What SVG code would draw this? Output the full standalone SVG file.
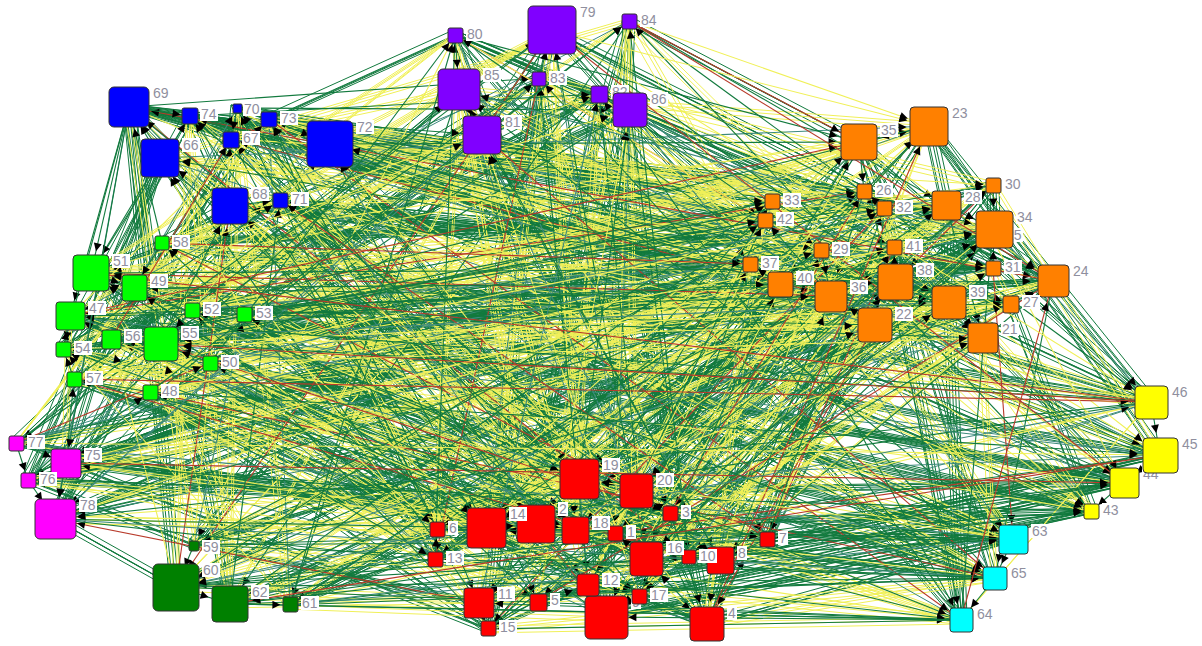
<svg xmlns="http://www.w3.org/2000/svg" width="1202" height="646" viewBox="0 0 1202 646">
<style>
#edges path{fill:none;stroke-width:1.1}
#edges .x{stroke-width:1}
.g{stroke:#127a3e}.t{stroke:#3c8a7c}.y{stroke:#f0f058}.r{stroke:#b83a2a}
.s{marker-end:url(#as)}.m{marker-end:url(#am)}.l{marker-end:url(#al)}
.nd{stroke:#333;stroke-width:1}
.cb{fill:#0000ff}.cp{fill:#8000ff}.co{fill:#ff8000}.cg{fill:#00ff00}.cm{fill:#ff00ff}.cd{fill:#008000}.cr{fill:#ff0000}.cy{fill:#ffff00}.cc{fill:#00ffff}
.lb{fill:#fff}
.tx{font-family:"Liberation Sans",Arial,sans-serif;font-size:14px;fill:#8f8f9e}
</style>
<defs>
<marker id="as" viewBox="0 0 10 10" refX="22" refY="5" markerWidth="8" markerHeight="8" markerUnits="userSpaceOnUse" orient="auto" overflow="visible"><path d="M0 0L10 5L0 10z" fill="#000"/></marker>
<marker id="am" viewBox="0 0 10 10" refX="30" refY="5" markerWidth="8" markerHeight="8" markerUnits="userSpaceOnUse" orient="auto" overflow="visible"><path d="M0 0L10 5L0 10z" fill="#000"/></marker>
<marker id="al" viewBox="0 0 10 10" refX="38" refY="5" markerWidth="8" markerHeight="8" markerUnits="userSpaceOnUse" orient="auto" overflow="visible"><path d="M0 0L10 5L0 10z" fill="#000"/></marker>
</defs>
<rect width="1202" height="646" fill="#fff"/>
<g id="edges">
<path id="xg" class="x g" d="M129 107L231 139M129 107L864 191M129 107L1011 304M129 107L536 524M190 116L230 206M190 116L772 201M190 116L875 325M237 108L280 200M237 108L765 220M269 119L455 35M330 144L16 443M160 158L435 559M160 158L66 463M231 139L1091 511M231 139L646 559M231 139L28 480M230 206L821 250M230 206L1013 539M230 206L689 557M230 206L55 519M280 200L599 94M280 200L750 264M280 200L995 578M280 200L720 560M455 35L630 110M455 35L993 268M455 35L961 620M552 30L482 135M552 30L1053 281M629 21L859 142M459 90L192 310M539 78L606 617M539 78L244 314M599 94L536 524M599 94L707 624M599 94L111 339M630 110L1011 304M630 110L670 513M630 110L488 629M630 110L161 344M482 135L765 220M482 135L875 325M482 135L575 530M482 135L194 545M859 142L884 208M859 142L983 338M859 142L615 533M929 126L946 205M929 126L1151 402M993 185L994 229M864 191L992 238M772 201L66 463M772 201L129 107M765 220L720 560M765 220L28 480M765 220L190 116M884 208L995 578M884 208L588 585M884 208L55 519M884 208L237 108M946 205L1053 281M946 205L961 620M946 205L479 603M946 205L162 243M994 229L780 284M994 229L579 479M994 229L538 602M894 247L895 282M894 247L636 491M821 250L831 296M750 264L230 206M993 268L244 314M993 268L280 200M1053 281L194 545M1053 281L111 339M1053 281L455 35M780 284L575 530M780 284L176 587M780 284L161 344M780 284L552 30M895 282L1151 402M895 282L615 533M895 282L230 604M895 282L63 349M831 296L1160 455M831 296L767 539M831 296L290 605M949 302L1124 483M949 302L435 559M1011 304L1091 511M875 325L630 110M983 338L129 107M983 338L482 135M1151 402L162 243M1151 402L190 116M1151 402L859 142M1160 455L479 603M1160 455L91 273M1160 455L237 108M1160 455L929 126M1124 483L636 491M1124 483L538 602M1124 483L134 288M1124 483L269 119M1091 511L437 529M1091 511L639 596M1091 511L70 316M1013 539L486 528M1013 539L606 617M995 578L536 524M961 620L884 208M579 479L280 200M579 479L946 205M636 491L63 349M636 491L455 35M636 491L994 229M437 529L230 604M437 529L210 363M437 529L552 30M437 529L894 247M486 528L435 559M486 528L290 605M486 528L74 379M486 528L629 21M536 524L646 559M536 524L16 443M536 524L150 392M670 513L689 557M670 513L66 463M575 530L720 560M615 533L780 284M767 539L482 135M767 539L895 282M435 559L269 119M435 559L859 142M435 559L831 296M646 559L134 288M646 559L330 144M646 559L929 126M646 559L949 302M689 557L606 617M689 557L70 316M689 557L160 158M689 557L993 185M720 560L707 624M720 560L192 310M720 560L231 139M588 585L488 629M588 585L244 314M479 603L194 545M538 602L1160 455M639 596L946 205M639 596L1124 483M606 617L629 21M606 617L994 229M606 617L1091 511M707 624L74 379M707 624L459 90M707 624L894 247M707 624L1013 539M488 629L66 463M488 629L150 392M488 629L539 78M488 629L821 250M194 545L28 480M194 545L992 238M194 545L599 94M176 587L55 519M176 587L129 107M230 604L162 243M290 605L437 529M16 443L895 282M16 443L486 528M66 463L993 185M66 463L831 296M66 463L536 524M28 480L160 158M28 480L864 191M28 480L949 302M28 480L670 513M55 519L244 314M55 519L231 139M55 519L772 201M55 519L1011 304M162 243L111 339M162 243L230 206M162 243L765 220M91 273L161 344M91 273L280 200M134 288L63 349M70 316L646 559M192 310L1124 483M192 310L689 557M244 314L821 250M244 314L1091 511M244 314L720 560M111 339L539 78M111 339L750 264M111 339L1013 539M111 339L588 585M161 344L129 107M161 344L599 94M161 344L993 268M161 344L995 578M63 349L190 116M63 349L630 110M63 349L1053 281M210 363L237 108M210 363L482 135M74 379L269 119M150 392L707 624"/>
<use href="#xg" transform="translate(3 2)"/>
<use href="#xg" transform="translate(-3 3)"/>
<use href="#xg" transform="translate(6 -2)"/>
<use href="#xg" transform="translate(-6 -3)"/>
<path id="xy" class="x y" d="M129 107L194 545M190 116L670 513M190 116L176 587M237 108L983 338M237 108L575 530M237 108L230 604M269 119L884 208M269 119L1151 402M269 119L615 533M330 144L552 30M330 144L946 205M330 144L1160 455M160 158L629 21M160 158L994 229M231 139L459 90M280 200L162 243M455 35L588 585M455 35L91 273M552 30L579 479M552 30L479 603M552 30L134 288M629 21L780 284M629 21L636 491M629 21L538 602M459 90L929 126M459 90L895 282M459 90L437 529M539 78L993 185M539 78L831 296M599 94L864 191M482 135L63 349M859 142L176 587M859 142L210 363M929 126L767 539M929 126L230 604M929 126L74 379M993 185L1160 455M993 185L435 559M993 185L290 605M864 191L894 247M864 191L1124 483M864 191L646 559M772 201L821 250M772 201L1091 511M765 220L750 264M946 205L269 119M994 229L91 273M994 229L330 144M894 247L639 596M894 247L134 288M894 247L160 158M821 250L437 529M821 250L606 617M821 250L70 316M750 264L949 302M750 264L486 528M750 264L707 624M993 268L1011 304M993 268L536 524M1053 281L875 325M895 282L629 21M831 296L210 363M831 296L459 90M949 302L16 443M949 302L74 379M949 302L539 78M1011 304L646 559M1011 304L66 463M1011 304L150 392M875 325L1013 539M875 325L689 557M875 325L28 480M983 338L995 578M983 338L720 560M1151 402L961 620M1091 511L330 144M1091 511L864 191M1013 539L192 310M1013 539L160 158M1013 539L772 201M995 578L707 624M995 578L244 314M995 578L231 139M961 620L670 513M961 620L488 629M961 620L111 339M579 479L575 530M579 479L194 545M636 491L615 533M486 528L821 250M536 524L459 90M536 524L750 264M670 513L992 238M670 513L539 78M670 513L993 268M575 530L28 480M575 530L129 107M575 530L599 94M615 533L588 585M615 533L55 519M615 533L190 116M767 539L479 603M767 539L162 243M435 559L538 602M689 557L1011 304M720 560L864 191M720 560L875 325M588 585L230 206M588 585L772 201M588 585L983 338M479 603L111 339M479 603L280 200M479 603L765 220M538 602L176 587M538 602L161 344M538 602L455 35M639 596L230 604M639 596L63 349M606 617L290 605M488 629L995 578M194 545L750 264M194 545L961 620M176 587L630 110M176 587L993 268M176 587L579 479M230 604L190 116M230 604L482 135M230 604L1053 281M290 605L91 273M290 605L237 108M290 605L859 142M16 443L134 288M16 443L269 119M66 463L70 316M55 519L575 530M162 243L875 325M162 243L615 533M91 273L884 208M91 273L983 338M91 273L767 539M134 288L455 35M134 288L946 205M134 288L1151 402M70 316L210 363M70 316L552 30M70 316L994 229M192 310L74 379M192 310L629 21M244 314L150 392M161 344L479 603M63 349L961 620M63 349L538 602M210 363L780 284M210 363L579 479M210 363L639 596M74 379L859 142M74 379L895 282M74 379L636 491M150 392L330 144M150 392L929 126M150 392L831 296"/>
<use href="#xy" transform="translate(2 -3)"/>
<use href="#xy" transform="translate(-4 4)"/>
<path class="x t" d="M269 119L290 605M330 144L767 539M160 158L1124 483M231 139L894 247M230 206L539 78M629 21L70 316M459 90L639 596M539 78L486 528M599 94L949 302M630 110L772 201M993 185L150 392M864 191L16 443M772 201L689 557M765 220L1013 539M884 208L993 268M821 250L231 139M750 264L192 310M993 268L488 629M1053 281L670 513M780 284L983 338M1011 304L599 94M875 325L992 238M983 338L55 519M1151 402L588 585M1160 455L579 479M995 578L765 220M961 620L230 206M579 479L161 344M636 491L176 587M437 529L767 539M575 530L1053 281M615 533L630 110M767 539L237 108M435 559L91 273M646 559L639 596M479 603L1151 402M538 602L884 208M639 596L552 30M606 617L210 363M707 624L16 443M230 604L636 491M290 605L780 284M16 443L929 126M66 463L330 144M28 480L192 310M134 288L435 559M70 316L1160 455M192 310L894 247M244 314L459 90M111 339L992 238M74 379L606 617M150 392L437 529"/>
<path class="g s" d="M129 107L539 78"/><path class="g s" d="M129 107L821 250"/><path class="y s" d="M129 107L1091 511"/><path class="r s" d="M129 107L689 557"/>
<path class="g s" d="M190 116L599 94"/><path class="g s" d="M190 116L750 264"/><path class="y m" d="M190 116L1013 539"/><path class="g m" d="M190 116L720 560"/>
<path class="g l" d="M237 108L630 110"/><path class="t s" d="M237 108L993 268"/><path class="y m" d="M237 108L995 578"/><path class="g m" d="M237 108L588 585"/>
<path class="g l" d="M269 119L482 135"/><path class="y l" d="M269 119L1053 281"/><path class="r m" d="M269 119L961 620"/><path class="g m" d="M269 119L479 603"/>
<path class="g l" d="M330 144L859 142"/><path class="y m" d="M330 144L780 284"/><path class="g l" d="M330 144L579 479"/><path class="g s" d="M330 144L538 602"/>
<path class="t l" d="M160 158L929 126"/><path class="y l" d="M160 158L895 282"/><path class="g l" d="M160 158L636 491"/><path class="g s" d="M160 158L639 596"/>
<path class="y s" d="M231 139L993 185"/><path class="r l" d="M231 139L831 296"/><path class="g s" d="M231 139L437 529"/><path class="t l" d="M231 139L606 617"/>
<path class="y s" d="M230 206L864 191"/><path class="g l" d="M230 206L949 302"/><path class="g l" d="M230 206L486 528"/><path class="y l" d="M230 206L707 624"/>
<path class="y s" d="M280 200L772 201"/><path class="g s" d="M280 200L1011 304"/><path class="g l" d="M280 200L536 524"/><path class="y s" d="M280 200L488 629"/>
<path class="r s" d="M455 35L765 220"/><path class="g l" d="M455 35L875 325"/><path class="t s" d="M455 35L670 513"/><path class="y s" d="M455 35L194 545"/>
<path class="g s" d="M552 30L884 208"/><path class="g m" d="M552 30L983 338"/><path class="y m" d="M552 30L575 530"/><path class="r l" d="M552 30L176 587"/>
<path class="g m" d="M629 21L946 205"/><path class="g l" d="M629 21L1151 402"/><path class="y s" d="M629 21L615 533"/><path class="g l" d="M629 21L230 604"/>
<path class="g l" d="M459 90L994 229"/><path class="t l" d="M459 90L1160 455"/><path class="y s" d="M459 90L767 539"/><path class="g s" d="M459 90L290 605"/>
<path class="g s" d="M539 78L894 247"/><path class="y m" d="M539 78L1124 483"/><path class="r s" d="M539 78L435 559"/><path class="g s" d="M539 78L16 443"/>
<path class="g s" d="M599 94L821 250"/><path class="y s" d="M599 94L1091 511"/><path class="g l" d="M599 94L646 559"/><path class="g m" d="M599 94L66 463"/>
<path class="t s" d="M630 110L750 264"/><path class="y m" d="M630 110L1013 539"/><path class="g s" d="M630 110L689 557"/><path class="g s" d="M630 110L28 480"/>
<path class="y s" d="M482 135L993 268"/><path class="r m" d="M482 135L995 578"/><path class="g m" d="M482 135L720 560"/><path class="t l" d="M482 135L55 519"/>
<path class="y l" d="M859 142L1053 281"/><path class="g m" d="M859 142L961 620"/><path class="g m" d="M859 142L588 585"/><path class="y s" d="M859 142L162 243"/>
<path class="y m" d="M929 126L780 284"/><path class="g l" d="M929 126L579 479"/><path class="g m" d="M929 126L479 603"/><path class="y l" d="M929 126L91 273"/>
<path class="r l" d="M993 185L895 282"/><path class="g l" d="M993 185L636 491"/><path class="t s" d="M993 185L538 602"/><path class="y m" d="M993 185L134 288"/>
<path class="g l" d="M864 191L831 296"/><path class="g s" d="M864 191L437 529"/><path class="y s" d="M864 191L639 596"/><path class="r m" d="M864 191L70 316"/>
<path class="g l" d="M772 201L949 302"/><path class="g l" d="M772 201L486 528"/><path class="y l" d="M772 201L606 617"/><path class="g s" d="M772 201L192 310"/>
<path class="g s" d="M765 220L1011 304"/><path class="t l" d="M765 220L536 524"/><path class="y l" d="M765 220L707 624"/><path class="g s" d="M765 220L244 314"/>
<path class="g l" d="M884 208L875 325"/><path class="y s" d="M884 208L670 513"/><path class="r s" d="M884 208L488 629"/><path class="g m" d="M884 208L111 339"/>
<path class="g m" d="M946 205L983 338"/><path class="y m" d="M946 205L575 530"/><path class="g s" d="M946 205L194 545"/><path class="g l" d="M946 205L161 344"/>
<path class="t l" d="M994 229L1151 402"/><path class="y s" d="M994 229L615 533"/><path class="g l" d="M994 229L176 587"/><path class="g s" d="M994 229L63 349"/>
<path class="y l" d="M894 247L1160 455"/><path class="r s" d="M894 247L767 539"/><path class="g l" d="M894 247L230 604"/><path class="t s" d="M894 247L210 363"/>
<path class="y m" d="M821 250L1124 483"/><path class="g s" d="M821 250L435 559"/><path class="g s" d="M821 250L290 605"/><path class="y s" d="M821 250L74 379"/>
<path class="y s" d="M750 264L1091 511"/><path class="g l" d="M750 264L646 559"/><path class="g s" d="M750 264L16 443"/><path class="y s" d="M750 264L150 392"/>
<path class="r m" d="M993 268L1013 539"/><path class="g s" d="M993 268L689 557"/><path class="t m" d="M993 268L66 463"/><path class="y l" d="M993 268L160 158"/>
<path class="g m" d="M1053 281L995 578"/><path class="g m" d="M1053 281L720 560"/><path class="y s" d="M1053 281L28 480"/><path class="r l" d="M1053 281L129 107"/>
<path class="g m" d="M780 284L961 620"/><path class="g m" d="M780 284L588 585"/><path class="y l" d="M780 284L55 519"/><path class="g s" d="M780 284L190 116"/>
<path class="g l" d="M895 282L579 479"/><path class="t m" d="M895 282L479 603"/><path class="y s" d="M895 282L162 243"/><path class="g s" d="M895 282L237 108"/>
<path class="g l" d="M831 296L636 491"/><path class="y s" d="M831 296L538 602"/><path class="r l" d="M831 296L91 273"/><path class="g s" d="M831 296L269 119"/>
<path class="g s" d="M949 302L437 529"/><path class="y s" d="M949 302L639 596"/><path class="g m" d="M949 302L134 288"/><path class="g l" d="M949 302L330 144"/>
<path class="t l" d="M1011 304L486 528"/><path class="y l" d="M1011 304L606 617"/><path class="g m" d="M1011 304L70 316"/><path class="g l" d="M1011 304L160 158"/>
<path class="y l" d="M875 325L536 524"/><path class="r l" d="M875 325L707 624"/><path class="g s" d="M875 325L192 310"/><path class="t s" d="M875 325L231 139"/>
<path class="y s" d="M983 338L670 513"/><path class="g s" d="M983 338L488 629"/><path class="g s" d="M983 338L244 314"/><path class="y l" d="M983 338L230 206"/>
<path class="y m" d="M1151 402L575 530"/><path class="g s" d="M1151 402L194 545"/><path class="g m" d="M1151 402L111 339"/><path class="y s" d="M1151 402L280 200"/>
<path class="r s" d="M1160 455L615 533"/><path class="g l" d="M1160 455L176 587"/><path class="t l" d="M1160 455L161 344"/><path class="y s" d="M1160 455L455 35"/>
<path class="g s" d="M1124 483L767 539"/><path class="g l" d="M1124 483L230 604"/><path class="y s" d="M1124 483L63 349"/><path class="r l" d="M1124 483L552 30"/>
<path class="g s" d="M1091 511L435 559"/><path class="g s" d="M1091 511L290 605"/><path class="y s" d="M1091 511L210 363"/><path class="g s" d="M1091 511L629 21"/>
<path class="g l" d="M1013 539L646 559"/><path class="t s" d="M1013 539L16 443"/><path class="y s" d="M1013 539L74 379"/><path class="g l" d="M1013 539L459 90"/>
<path class="g s" d="M995 578L689 557"/><path class="y m" d="M995 578L66 463"/><path class="r s" d="M995 578L150 392"/><path class="g s" d="M995 578L539 78"/>
<path class="g m" d="M961 620L720 560"/><path class="y s" d="M961 620L28 480"/><path class="g l" d="M961 620L992 238"/><path class="g s" d="M961 620L599 94"/>
<path class="t m" d="M579 479L588 585"/><path class="y l" d="M579 479L55 519"/><path class="g l" d="M579 479L129 107"/><path class="g l" d="M579 479L630 110"/>
<path class="y m" d="M636 491L479 603"/><path class="r s" d="M636 491L162 243"/><path class="g s" d="M636 491L190 116"/><path class="t l" d="M636 491L482 135"/>
<path class="y s" d="M437 529L538 602"/><path class="g l" d="M437 529L91 273"/><path class="g s" d="M437 529L237 108"/><path class="y l" d="M437 529L859 142"/>
<path class="y s" d="M486 528L639 596"/><path class="g m" d="M486 528L134 288"/><path class="g s" d="M486 528L269 119"/><path class="y l" d="M486 528L929 126"/>
<path class="r l" d="M536 524L606 617"/><path class="g m" d="M536 524L70 316"/><path class="t l" d="M536 524L330 144"/><path class="y s" d="M536 524L993 185"/>
<path class="g l" d="M670 513L707 624"/><path class="g s" d="M670 513L192 310"/><path class="y l" d="M670 513L160 158"/><path class="r s" d="M670 513L864 191"/>
<path class="g s" d="M575 530L488 629"/><path class="g s" d="M575 530L244 314"/><path class="y s" d="M575 530L231 139"/><path class="g s" d="M575 530L772 201"/>
<path class="g s" d="M615 533L194 545"/><path class="t m" d="M615 533L111 339"/><path class="y l" d="M615 533L230 206"/><path class="g s" d="M615 533L765 220"/>
<path class="g l" d="M767 539L176 587"/><path class="y l" d="M767 539L161 344"/><path class="r s" d="M767 539L280 200"/><path class="g s" d="M767 539L884 208"/>
<path class="g l" d="M435 559L230 604"/><path class="y s" d="M435 559L63 349"/><path class="g s" d="M435 559L455 35"/><path class="g m" d="M435 559L946 205"/>
<path class="t s" d="M646 559L290 605"/><path class="y s" d="M646 559L210 363"/><path class="g l" d="M646 559L552 30"/><path class="g l" d="M646 559L994 229"/>
<path class="y s" d="M689 557L16 443"/><path class="r s" d="M689 557L74 379"/><path class="g s" d="M689 557L629 21"/><path class="t s" d="M689 557L894 247"/>
<path class="y m" d="M720 560L66 463"/><path class="g s" d="M720 560L150 392"/><path class="g l" d="M720 560L459 90"/><path class="y s" d="M720 560L821 250"/>
<path class="y s" d="M588 585L28 480"/><path class="g l" d="M588 585L992 238"/><path class="g s" d="M588 585L539 78"/><path class="y s" d="M588 585L750 264"/>
<path class="r l" d="M479 603L55 519"/><path class="g l" d="M479 603L129 107"/><path class="t s" d="M479 603L599 94"/><path class="y s" d="M479 603L993 268"/>
<path class="g s" d="M538 602L162 243"/><path class="g s" d="M538 602L190 116"/><path class="y l" d="M538 602L630 110"/><path class="r l" d="M538 602L1053 281"/>
<path class="g l" d="M639 596L91 273"/><path class="g s" d="M639 596L237 108"/><path class="y l" d="M639 596L482 135"/><path class="g m" d="M639 596L780 284"/>
<path class="g m" d="M606 617L134 288"/><path class="t s" d="M606 617L269 119"/><path class="y l" d="M606 617L859 142"/><path class="g l" d="M606 617L895 282"/>
<path class="g m" d="M707 624L70 316"/><path class="y l" d="M707 624L330 144"/><path class="r l" d="M707 624L929 126"/><path class="g l" d="M707 624L831 296"/>
<path class="g s" d="M488 629L192 310"/><path class="y l" d="M488 629L160 158"/><path class="g s" d="M488 629L993 185"/><path class="g l" d="M488 629L949 302"/>
<path class="t s" d="M194 545L244 314"/><path class="y s" d="M194 545L231 139"/><path class="g s" d="M194 545L864 191"/><path class="g s" d="M194 545L1011 304"/>
<path class="y m" d="M176 587L111 339"/><path class="r l" d="M176 587L230 206"/><path class="g s" d="M176 587L772 201"/><path class="t l" d="M176 587L875 325"/>
<path class="y l" d="M230 604L161 344"/><path class="g s" d="M230 604L280 200"/><path class="g s" d="M230 604L765 220"/><path class="y m" d="M230 604L983 338"/>
<path class="y s" d="M290 605L63 349"/><path class="g s" d="M290 605L455 35"/><path class="g s" d="M290 605L884 208"/><path class="y l" d="M290 605L1151 402"/>
<path class="r s" d="M16 443L210 363"/><path class="g l" d="M16 443L552 30"/><path class="t m" d="M16 443L946 205"/><path class="y l" d="M16 443L1160 455"/>
<path class="g s" d="M66 463L74 379"/><path class="g s" d="M66 463L629 21"/><path class="y l" d="M66 463L994 229"/><path class="r m" d="M66 463L1124 483"/>
<path class="g s" d="M28 480L150 392"/><path class="g l" d="M28 480L459 90"/><path class="y s" d="M28 480L894 247"/><path class="g s" d="M28 480L1091 511"/>
<path class="g l" d="M55 519L992 238"/><path class="t s" d="M55 519L539 78"/><path class="y s" d="M55 519L821 250"/><path class="g m" d="M55 519L1013 539"/>
<path class="g l" d="M162 243L129 107"/><path class="y s" d="M162 243L599 94"/><path class="r s" d="M162 243L750 264"/><path class="g m" d="M162 243L995 578"/>
<path class="g s" d="M91 273L190 116"/><path class="y l" d="M91 273L630 110"/><path class="g s" d="M91 273L993 268"/><path class="g m" d="M91 273L961 620"/>
<path class="t s" d="M134 288L237 108"/><path class="y l" d="M134 288L482 135"/><path class="g l" d="M134 288L1053 281"/><path class="g l" d="M134 288L579 479"/>
<path class="y s" d="M70 316L269 119"/><path class="r l" d="M70 316L859 142"/><path class="g m" d="M70 316L780 284"/><path class="t l" d="M70 316L636 491"/>
<path class="y l" d="M192 310L330 144"/><path class="g l" d="M192 310L929 126"/><path class="g l" d="M192 310L895 282"/><path class="y s" d="M192 310L437 529"/>
<path class="y l" d="M244 314L160 158"/><path class="g s" d="M244 314L993 185"/><path class="g l" d="M244 314L831 296"/><path class="y l" d="M244 314L486 528"/>
<path class="r s" d="M111 339L231 139"/><path class="g s" d="M111 339L864 191"/><path class="t l" d="M111 339L949 302"/><path class="y l" d="M111 339L536 524"/>
<path class="g l" d="M161 344L230 206"/><path class="g s" d="M161 344L772 201"/><path class="y s" d="M161 344L1011 304"/><path class="r s" d="M161 344L670 513"/>
<path class="g s" d="M63 349L280 200"/><path class="g s" d="M63 349L765 220"/><path class="y l" d="M63 349L875 325"/><path class="g m" d="M63 349L575 530"/>
<path class="g s" d="M210 363L455 35"/><path class="t s" d="M210 363L884 208"/><path class="y m" d="M210 363L983 338"/><path class="g s" d="M210 363L615 533"/>
<path class="g l" d="M74 379L552 30"/><path class="y m" d="M74 379L946 205"/><path class="r l" d="M74 379L1151 402"/><path class="g s" d="M74 379L767 539"/>
<path class="g s" d="M150 392L629 21"/><path class="y l" d="M150 392L994 229"/><path class="g l" d="M150 392L1160 455"/><path class="g s" d="M150 392L435 559"/>
<path class="t l" d="M992 238L459 90"/><path class="y m" d="M992 238L1124 483"/><path class="g l" d="M992 238L646 559"/>
<path class="g m" d="M176 587L961 620"/><path class="g m" d="M176 587L995 578"/><path class="g m" d="M176 587L1013 539"/><path class="g m" d="M230 604L961 620"/><path class="g m" d="M230 604L995 578"/><path class="g s" d="M230 604L1091 511"/>
<path class="g m" d="M290 605L961 620"/><path class="g m" d="M290 605L995 578"/><path class="t m" d="M290 605L1013 539"/><path class="g m" d="M55 519L961 620"/><path class="t m" d="M55 519L995 578"/><path class="g m" d="M194 545L995 578"/>
<path class="g m" d="M194 545L1013 539"/><path class="g m" d="M66 463L1013 539"/><path class="g m" d="M176 587L1124 483"/>
<path class="g m" d="M961 620L479 603"/><path class="g s" d="M961 620L488 629"/><path class="g l" d="M995 578L486 528"/><path class="g s" d="M1013 539L437 529"/><path class="g s" d="M995 578L435 559"/><path class="g l" d="M961 620L606 617"/><path class="y l" d="M1013 539L579 479"/>
<path class="r l" d="M1151 402L91 273"/><path class="g m" d="M1151 402L70 316"/><path class="r l" d="M1151 402L161 344"/><path class="g l" d="M1151 402L55 519"/><path class="t l" d="M1151 402L176 587"/><path class="r l" d="M1160 455L230 604"/>
<path class="r l" d="M961 620L1053 281"/>
<path class="y l" d="M629 21L929 126"/><path class="r l" d="M629 21L859 142"/><path class="y l" d="M552 30L929 126"/><path class="g l" d="M455 35L859 142"/><path class="r l" d="M629 21L1053 281"/><path class="y l" d="M552 30L1151 402"/>
<path class="g l" d="M129 107L91 273"/><path class="g m" d="M129 107L70 316"/><path class="g s" d="M129 107L63 349"/><path class="t l" d="M129 107L55 519"/><path class="g l" d="M160 158L91 273"/><path class="g m" d="M129 107L66 463"/>
<path class="g l" d="M579 479L486 528"/><path class="g l" d="M636 491L536 524"/><path class="g l" d="M486 528L536 524"/><path class="g m" d="M536 524L575 530"/><path class="g s" d="M646 559L615 533"/><path class="g s" d="M720 560L689 557"/><path class="g l" d="M588 585L606 617"/>
<path class="g s" d="M479 603L488 629"/><path class="g m" d="M538 602L588 585"/><path class="g l" d="M707 624L646 559"/><path class="g l" d="M639 596L606 617"/><path class="g l" d="M670 513L636 491"/><path class="g m" d="M767 539L720 560"/><path class="g s" d="M435 559L437 529"/>
<path class="g l" d="M929 126L859 142"/><path class="g s" d="M859 142L864 191"/><path class="g l" d="M946 205L994 229"/><path class="g l" d="M993 185L994 229"/><path class="g s" d="M895 282L894 247"/><path class="g m" d="M949 302L983 338"/><path class="g l" d="M875 325L831 296"/>
<path class="g l" d="M1011 304L1053 281"/><path class="g l" d="M993 268L994 229"/><path class="g s" d="M780 284L750 264"/><path class="g s" d="M831 296L765 220"/><path class="g l" d="M821 250L831 296"/><path class="g s" d="M884 208L864 191"/>
<path class="g m" d="M91 273L134 288"/><path class="g m" d="M134 288L70 316"/><path class="g m" d="M161 344L111 339"/><path class="g m" d="M63 349L70 316"/><path class="g s" d="M74 379L63 349"/><path class="g m" d="M162 243L134 288"/><path class="g l" d="M192 310L161 344"/><path class="g l" d="M210 363L161 344"/><path class="g s" d="M150 392L74 379"/>
<path class="g s" d="M129 107L190 116"/><path class="g s" d="M237 108L231 139"/><path class="g l" d="M269 119L330 144"/><path class="g l" d="M160 158L129 107"/><path class="g s" d="M230 206L280 200"/>
<path class="g l" d="M459 90L482 135"/><path class="g l" d="M539 78L552 30"/><path class="g l" d="M599 94L630 110"/><path class="g l" d="M455 35L459 90"/>
<path class="g m" d="M16 443L66 463"/><path class="g l" d="M28 480L55 519"/><path class="g l" d="M66 463L55 519"/><path class="g s" d="M16 443L28 480"/>
<path class="g l" d="M1151 402L1160 455"/><path class="g m" d="M1160 455L1124 483"/><path class="g s" d="M1124 483L1091 511"/>
<path class="g m" d="M1013 539L995 578"/><path class="g m" d="M995 578L961 620"/>
<path class="g l" d="M194 545L176 587"/><path class="g l" d="M176 587L230 604"/><path class="g s" d="M230 604L290 605"/>
</g>
<g id="nodes">
<g id="n1"><rect class="nd cr" x="608" y="526" width="15" height="15" rx="2"/><rect class="lb" x="626" y="525" width="10" height="14"/><text class="tx" x="627" y="537">1</text></g>
<g id="n2"><rect class="nd cr" x="517" y="505" width="38" height="38" rx="4"/><rect class="lb" x="558" y="502" width="10" height="14"/><text class="tx" x="559" y="514">2</text></g>
<g id="n3"><rect class="nd cr" x="663" y="506" width="15" height="15" rx="2"/><rect class="lb" x="681" y="505" width="10" height="14"/><text class="tx" x="682" y="517">3</text></g>
<g id="n4"><rect class="nd cr" x="690" y="607" width="34" height="34" rx="4"/><rect class="lb" x="727" y="606" width="10" height="14"/><text class="tx" x="728" y="618">4</text></g>
<g id="n5"><rect class="nd cr" x="530" y="594" width="17" height="17" rx="2"/><rect class="lb" x="550" y="593" width="10" height="14"/><text class="tx" x="551" y="605">5</text></g>
<g id="n6"><rect class="nd cr" x="430" y="522" width="15" height="15" rx="2"/><rect class="lb" x="448" y="521" width="10" height="14"/><text class="tx" x="449" y="533">6</text></g>
<g id="n7"><rect class="nd cr" x="760" y="532" width="15" height="15" rx="2"/><rect class="lb" x="778" y="531" width="10" height="14"/><text class="tx" x="779" y="543">7</text></g>
<g id="n8"><rect class="nd cr" x="707" y="547" width="27" height="27" rx="3"/><rect class="lb" x="737" y="546" width="10" height="14"/><text class="tx" x="738" y="558">8</text></g>
<g id="n9"><rect class="nd cr" x="585" y="596" width="43" height="43" rx="5"/><rect class="lb" x="631" y="595" width="10" height="14"/><text class="tx" x="632" y="607">9</text></g>
<g id="n10"><rect class="nd cr" x="682" y="550" width="14" height="14" rx="2"/><rect class="lb" x="699" y="549" width="18" height="14"/><text class="tx" x="700" y="561">10</text></g>
<g id="n11"><rect class="nd cr" x="464" y="588" width="30" height="30" rx="3"/><rect class="lb" x="497" y="587" width="18" height="14"/><text class="tx" x="498" y="599">11</text></g>
<g id="n12"><rect class="nd cr" x="577" y="574" width="22" height="22" rx="3"/><rect class="lb" x="602" y="573" width="18" height="14"/><text class="tx" x="603" y="585">12</text></g>
<g id="n13"><rect class="nd cr" x="428" y="552" width="15" height="15" rx="2"/><rect class="lb" x="446" y="551" width="18" height="14"/><text class="tx" x="447" y="563">13</text></g>
<g id="n14"><rect class="nd cr" x="467" y="508" width="39" height="40" rx="4"/><rect class="lb" x="509" y="507" width="18" height="14"/><text class="tx" x="510" y="519">14</text></g>
<g id="n15"><rect class="nd cr" x="481" y="621" width="15" height="15" rx="2"/><rect class="lb" x="499" y="620" width="18" height="14"/><text class="tx" x="500" y="632">15</text></g>
<g id="n16"><rect class="nd cr" x="630" y="542" width="33" height="34" rx="4"/><rect class="lb" x="666" y="541" width="18" height="14"/><text class="tx" x="667" y="553">16</text></g>
<g id="n17"><rect class="nd cr" x="632" y="589" width="15" height="15" rx="2"/><rect class="lb" x="650" y="588" width="18" height="14"/><text class="tx" x="651" y="600">17</text></g>
<g id="n18"><rect class="nd cr" x="562" y="517" width="27" height="27" rx="3"/><rect class="lb" x="592" y="516" width="18" height="14"/><text class="tx" x="593" y="528">18</text></g>
<g id="n19"><rect class="nd cr" x="560" y="459" width="39" height="40" rx="4"/><rect class="lb" x="602" y="458" width="18" height="14"/><text class="tx" x="603" y="470">19</text></g>
<g id="n20"><rect class="nd cr" x="620" y="474" width="33" height="34" rx="4"/><rect class="lb" x="656" y="473" width="18" height="14"/><text class="tx" x="657" y="485">20</text></g>
<g id="n21"><rect class="nd co" x="968" y="323" width="30" height="30" rx="3"/><rect class="lb" x="1001" y="322" width="18" height="14"/><text class="tx" x="1002" y="334">21</text></g>
<g id="n22"><rect class="nd co" x="858" y="308" width="34" height="34" rx="4"/><rect class="lb" x="895" y="307" width="18" height="14"/><text class="tx" x="896" y="319">22</text></g>
<g id="n23"><rect class="nd co" x="910" y="107" width="38" height="39" rx="4"/><rect class="lb" x="951" y="106" width="18" height="14"/><text class="tx" x="952" y="118">23</text></g>
<g id="n24"><rect class="nd co" x="1038" y="265" width="31" height="32" rx="4"/><rect class="lb" x="1072" y="264" width="18" height="14"/><text class="tx" x="1073" y="276">24</text></g>
<g id="n25"><rect class="nd co" x="983" y="229" width="19" height="19" rx="2"/><rect class="lb" x="1005" y="228" width="18" height="14"/><text class="tx" x="1006" y="240">25</text></g>
<g id="n26"><rect class="nd co" x="857" y="184" width="15" height="15" rx="2"/><rect class="lb" x="875" y="183" width="18" height="14"/><text class="tx" x="876" y="195">26</text></g>
<g id="n27"><rect class="nd co" x="1003" y="296" width="16" height="17" rx="2"/><rect class="lb" x="1022" y="295" width="18" height="14"/><text class="tx" x="1023" y="307">27</text></g>
<g id="n28"><rect class="nd co" x="932" y="191" width="29" height="29" rx="3"/><rect class="lb" x="964" y="190" width="18" height="14"/><text class="tx" x="965" y="202">28</text></g>
<g id="n29"><rect class="nd co" x="814" y="243" width="15" height="15" rx="2"/><rect class="lb" x="832" y="242" width="18" height="14"/><text class="tx" x="833" y="254">29</text></g>
<g id="n30"><rect class="nd co" x="986" y="178" width="15" height="15" rx="2"/><rect class="lb" x="1004" y="177" width="18" height="14"/><text class="tx" x="1005" y="189">30</text></g>
<g id="n31"><rect class="nd co" x="986" y="261" width="15" height="15" rx="2"/><rect class="lb" x="1004" y="260" width="18" height="14"/><text class="tx" x="1005" y="272">31</text></g>
<g id="n32"><rect class="nd co" x="877" y="201" width="15" height="15" rx="2"/><rect class="lb" x="895" y="200" width="18" height="14"/><text class="tx" x="896" y="212">32</text></g>
<g id="n33"><rect class="nd co" x="765" y="194" width="15" height="15" rx="2"/><rect class="lb" x="783" y="193" width="18" height="14"/><text class="tx" x="784" y="205">33</text></g>
<g id="n34"><rect class="nd co" x="976" y="211" width="37" height="37" rx="4"/><rect class="lb" x="1016" y="210" width="18" height="14"/><text class="tx" x="1017" y="222">34</text></g>
<g id="n35"><rect class="nd co" x="841" y="124" width="36" height="36" rx="4"/><rect class="lb" x="880" y="123" width="18" height="14"/><text class="tx" x="881" y="135">35</text></g>
<g id="n36"><rect class="nd co" x="815" y="281" width="32" height="31" rx="4"/><rect class="lb" x="850" y="280" width="18" height="14"/><text class="tx" x="851" y="292">36</text></g>
<g id="n37"><rect class="nd co" x="743" y="257" width="15" height="15" rx="2"/><rect class="lb" x="761" y="256" width="18" height="14"/><text class="tx" x="762" y="268">37</text></g>
<g id="n38"><rect class="nd co" x="878" y="264" width="35" height="36" rx="4"/><rect class="lb" x="916" y="263" width="18" height="14"/><text class="tx" x="917" y="275">38</text></g>
<g id="n39"><rect class="nd co" x="932" y="286" width="34" height="33" rx="4"/><rect class="lb" x="969" y="285" width="18" height="14"/><text class="tx" x="970" y="297">39</text></g>
<g id="n40"><rect class="nd co" x="768" y="272" width="25" height="25" rx="3"/><rect class="lb" x="796" y="271" width="18" height="14"/><text class="tx" x="797" y="283">40</text></g>
<g id="n41"><rect class="nd co" x="887" y="240" width="15" height="15" rx="2"/><rect class="lb" x="905" y="239" width="18" height="14"/><text class="tx" x="906" y="251">41</text></g>
<g id="n42"><rect class="nd co" x="758" y="213" width="15" height="15" rx="2"/><rect class="lb" x="776" y="212" width="18" height="14"/><text class="tx" x="777" y="224">42</text></g>
<g id="n43"><rect class="nd cy" x="1084" y="504" width="15" height="15" rx="2"/><rect class="lb" x="1102" y="503" width="18" height="14"/><text class="tx" x="1103" y="515">43</text></g>
<g id="n44"><rect class="nd cy" x="1110" y="468" width="29" height="30" rx="3"/><rect class="lb" x="1142" y="467" width="18" height="14"/><text class="tx" x="1143" y="479">44</text></g>
<g id="n45"><rect class="nd cy" x="1143" y="438" width="35" height="35" rx="4"/><rect class="lb" x="1181" y="437" width="18" height="14"/><text class="tx" x="1182" y="449">45</text></g>
<g id="n46"><rect class="nd cy" x="1135" y="386" width="33" height="33" rx="4"/><rect class="lb" x="1171" y="385" width="18" height="14"/><text class="tx" x="1172" y="397">46</text></g>
<g id="n47"><rect class="nd cg" x="56" y="302" width="29" height="28" rx="3"/><rect class="lb" x="88" y="301" width="18" height="14"/><text class="tx" x="89" y="313">47</text></g>
<g id="n48"><rect class="nd cg" x="143" y="385" width="15" height="15" rx="2"/><rect class="lb" x="161" y="384" width="18" height="14"/><text class="tx" x="162" y="396">48</text></g>
<g id="n49"><rect class="nd cg" x="122" y="275" width="25" height="26" rx="3"/><rect class="lb" x="150" y="274" width="18" height="14"/><text class="tx" x="151" y="286">49</text></g>
<g id="n50"><rect class="nd cg" x="203" y="356" width="15" height="15" rx="2"/><rect class="lb" x="221" y="355" width="18" height="14"/><text class="tx" x="222" y="367">50</text></g>
<g id="n51"><rect class="nd cg" x="73" y="255" width="36" height="36" rx="4"/><rect class="lb" x="112" y="254" width="18" height="14"/><text class="tx" x="113" y="266">51</text></g>
<g id="n52"><rect class="nd cg" x="185" y="303" width="15" height="15" rx="2"/><rect class="lb" x="203" y="302" width="18" height="14"/><text class="tx" x="204" y="314">52</text></g>
<g id="n53"><rect class="nd cg" x="237" y="307" width="15" height="15" rx="2"/><rect class="lb" x="255" y="306" width="18" height="14"/><text class="tx" x="256" y="318">53</text></g>
<g id="n54"><rect class="nd cg" x="56" y="342" width="15" height="15" rx="2"/><rect class="lb" x="74" y="341" width="18" height="14"/><text class="tx" x="75" y="353">54</text></g>
<g id="n55"><rect class="nd cg" x="144" y="327" width="34" height="34" rx="4"/><rect class="lb" x="181" y="326" width="18" height="14"/><text class="tx" x="182" y="338">55</text></g>
<g id="n56"><rect class="nd cg" x="102" y="330" width="19" height="19" rx="2"/><rect class="lb" x="124" y="329" width="18" height="14"/><text class="tx" x="125" y="341">56</text></g>
<g id="n57"><rect class="nd cg" x="67" y="372" width="15" height="15" rx="2"/><rect class="lb" x="85" y="371" width="18" height="14"/><text class="tx" x="86" y="383">57</text></g>
<g id="n58"><rect class="nd cg" x="155" y="236" width="14" height="14" rx="2"/><rect class="lb" x="172" y="235" width="18" height="14"/><text class="tx" x="173" y="247">58</text></g>
<g id="n59"><rect class="nd cd" x="189" y="541" width="10" height="10" rx="2"/><rect class="lb" x="202" y="540" width="18" height="14"/><text class="tx" x="203" y="552">59</text></g>
<g id="n60"><rect class="nd cd" x="153" y="564" width="46" height="47" rx="5"/><rect class="lb" x="202" y="563" width="18" height="14"/><text class="tx" x="203" y="575">60</text></g>
<g id="n61"><rect class="nd cd" x="283" y="597" width="15" height="15" rx="2"/><rect class="lb" x="301" y="596" width="18" height="14"/><text class="tx" x="302" y="608">61</text></g>
<g id="n62"><rect class="nd cd" x="212" y="586" width="36" height="36" rx="4"/><rect class="lb" x="251" y="585" width="18" height="14"/><text class="tx" x="252" y="597">62</text></g>
<g id="n63"><rect class="nd cc" x="999" y="525" width="29" height="29" rx="3"/><rect class="lb" x="1031" y="524" width="18" height="14"/><text class="tx" x="1032" y="536">63</text></g>
<g id="n64"><rect class="nd cc" x="950" y="608" width="23" height="24" rx="3"/><rect class="lb" x="976" y="607" width="18" height="14"/><text class="tx" x="977" y="619">64</text></g>
<g id="n65"><rect class="nd cc" x="983" y="567" width="24" height="23" rx="3"/><rect class="lb" x="1010" y="566" width="18" height="14"/><text class="tx" x="1011" y="578">65</text></g>
<g id="n66"><rect class="nd cb" x="141" y="139" width="38" height="38" rx="4"/><rect class="lb" x="182" y="138" width="18" height="14"/><text class="tx" x="183" y="150">66</text></g>
<g id="n67"><rect class="nd cb" x="223" y="132" width="16" height="16" rx="2"/><rect class="lb" x="242" y="131" width="18" height="14"/><text class="tx" x="243" y="143">67</text></g>
<g id="n68"><rect class="nd cb" x="212" y="188" width="36" height="36" rx="4"/><rect class="lb" x="251" y="187" width="18" height="14"/><text class="tx" x="252" y="199">68</text></g>
<g id="n69"><rect class="nd cb" x="109" y="87" width="40" height="40" rx="5"/><rect class="lb" x="152" y="86" width="18" height="14"/><text class="tx" x="153" y="98">69</text></g>
<g id="n70"><rect class="nd cb" x="233" y="104" width="9" height="9" rx="1"/><rect class="lb" x="243" y="102" width="18" height="14"/><text class="tx" x="244" y="114">70</text></g>
<g id="n71"><rect class="nd cb" x="273" y="193" width="15" height="15" rx="2"/><rect class="lb" x="291" y="192" width="18" height="14"/><text class="tx" x="292" y="204">71</text></g>
<g id="n72"><rect class="nd cb" x="307" y="121" width="46" height="46" rx="5"/><rect class="lb" x="356" y="120" width="18" height="14"/><text class="tx" x="357" y="132">72</text></g>
<g id="n73"><rect class="nd cb" x="261" y="112" width="16" height="15" rx="2"/><rect class="lb" x="280" y="111" width="18" height="14"/><text class="tx" x="281" y="123">73</text></g>
<g id="n74"><rect class="nd cb" x="182" y="108" width="16" height="16" rx="2"/><rect class="lb" x="200" y="107" width="18" height="14"/><text class="tx" x="201" y="119">74</text></g>
<g id="n75"><rect class="nd cm" x="51" y="449" width="30" height="29" rx="3"/><rect class="lb" x="84" y="448" width="18" height="14"/><text class="tx" x="85" y="460">75</text></g>
<g id="n76"><rect class="nd cm" x="21" y="473" width="15" height="15" rx="2"/><rect class="lb" x="39" y="472" width="18" height="14"/><text class="tx" x="40" y="484">76</text></g>
<g id="n77"><rect class="nd cm" x="9" y="436" width="15" height="15" rx="2"/><rect class="lb" x="27" y="435" width="18" height="14"/><text class="tx" x="28" y="447">77</text></g>
<g id="n78"><rect class="nd cm" x="35" y="499" width="41" height="40" rx="5"/><rect class="lb" x="79" y="498" width="18" height="14"/><text class="tx" x="80" y="510">78</text></g>
<g id="n79"><rect class="nd cp" x="528" y="6" width="48" height="48" rx="5"/><rect class="lb" x="579" y="5" width="18" height="14"/><text class="tx" x="580" y="17">79</text></g>
<g id="n80"><rect class="nd cp" x="448" y="28" width="15" height="15" rx="2"/><rect class="lb" x="466" y="27" width="18" height="14"/><text class="tx" x="467" y="39">80</text></g>
<g id="n81"><rect class="nd cp" x="463" y="116" width="38" height="38" rx="4"/><rect class="lb" x="504" y="115" width="18" height="14"/><text class="tx" x="505" y="127">81</text></g>
<g id="n82"><rect class="nd cp" x="591" y="86" width="17" height="17" rx="2"/><rect class="lb" x="611" y="85" width="18" height="14"/><text class="tx" x="612" y="97">82</text></g>
<g id="n83"><rect class="nd cp" x="532" y="72" width="14" height="14" rx="2"/><rect class="lb" x="549" y="71" width="18" height="14"/><text class="tx" x="550" y="83">83</text></g>
<g id="n84"><rect class="nd cp" x="622" y="14" width="15" height="15" rx="2"/><rect class="lb" x="640" y="13" width="18" height="14"/><text class="tx" x="641" y="25">84</text></g>
<g id="n85"><rect class="nd cp" x="438" y="69" width="42" height="41" rx="5"/><rect class="lb" x="483" y="68" width="18" height="14"/><text class="tx" x="484" y="80">85</text></g>
<g id="n86"><rect class="nd cp" x="613" y="93" width="34" height="34" rx="4"/><rect class="lb" x="650" y="92" width="18" height="14"/><text class="tx" x="651" y="104">86</text></g>
</g>
</svg>
